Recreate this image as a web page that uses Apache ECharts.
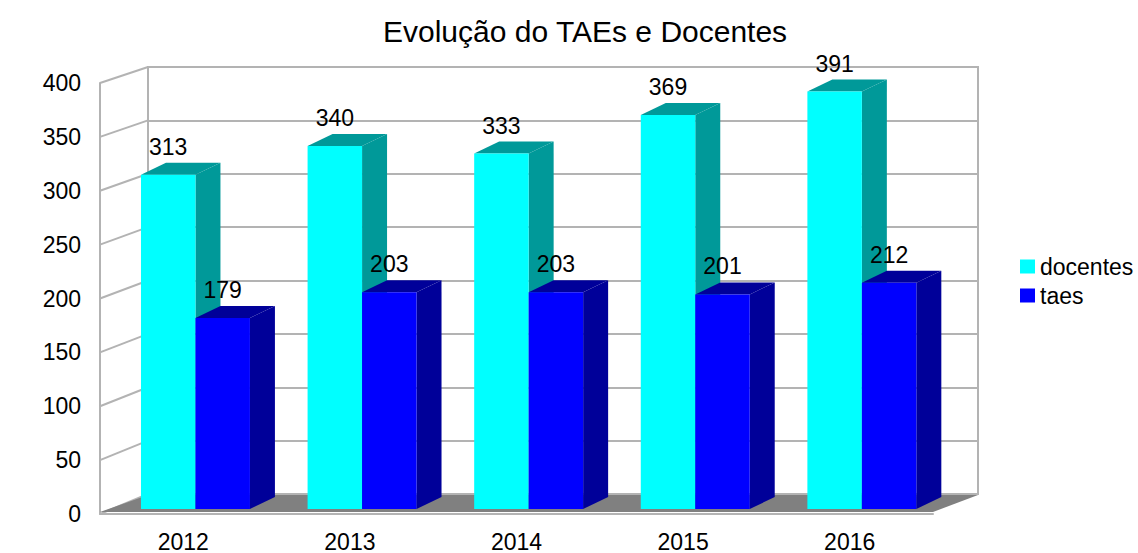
<!DOCTYPE html>
<html>
<head>
<meta charset="utf-8">
<title>Evolução do TAEs e Docentes</title>
<script src="https://cdn.jsdelivr.net/npm/echarts@6/dist/echarts.min.js"></script>
<style>
	html,body{margin:0;padding:0;background:#fff}
	#chart{width:1138px;height:553px}
</style>
</head>
<body>
<div id="chart"></div>
<script>
	var anos = ['2012', '2013', '2014', '2015', '2016'];
	var docentes = [313, 340, 333, 369, 391];
	var taes = [179, 203, 203, 201, 212];
	var escala = [0, 50, 100, 150, 200, 250, 300, 350, 400];

	// parede do fundo (grid 2)
	var fundo = {left: 148, top: 67, width: 830, height: 427};
	var fonte = 'Liberation Sans, Arial, sans-serif';
	var cinza = '#b3b3b3';

	var myChart = echarts.init(document.getElementById('chart'), null, {renderer: 'svg'});

	// barra "3d": frente, lado e topo
	function barra(idx, cor, sombra) {
		return function (params, api) {
			var i = api.value(0), v = api.value(1);
			var base = api.coord([i, 0]);
			var topo = api.coord([i, v]);
			var band = api.size([1, 0])[0];
			var w = band * 0.327, dx = band * 0.15, dy = -12;
			var x0 = base[0] - band * 0.254 + idx * w;
			var x1 = x0 + w, y0 = topo[1], y1 = base[1];
			return {
				type: 'group',
				children: [
					{type: 'polygon', shape: {points: [[x1, y0], [x1 + dx, y0 + dy], [x1 + dx, y1 + dy], [x1, y1]]}, style: {fill: sombra}},
					{type: 'polygon', shape: {points: [[x0, y0], [x0 + dx, y0 + dy], [x1 + dx, y0 + dy], [x1, y0]]}, style: {fill: sombra}},
					{type: 'rect', shape: {x: x0, y: y0, width: w, height: y1 - y0}, style: {fill: cor}},
					{type: 'text', z2: 100, style: {text: String(v), x: (x0 + x1) / 2, y: y0 - 28, align: 'center', verticalAlign: 'middle', font: '23px ' + fonte, fill: '#000'}}
				]
			};
		};
	}

	// parede esquerda e chão
	function paredes(params, api) {
		var cs = params.coordSys;
		var filhos = [];
		escala.forEach(function (v) {
			var yf = api.coord([0, v])[1];
			var yb = fundo.top + fundo.height * (1 - v / 400);
			filhos.push({type: 'line', shape: {x1: cs.x, y1: yf, x2: fundo.left, y2: yb}, style: {stroke: cinza, lineWidth: 2}});
		});
		var yb0 = fundo.top + fundo.height + 1;
		var yf0 = cs.y + cs.height - 2;
		filhos.push({type: 'polygon', shape: {points: [[cs.x, yf0], [fundo.left, yb0], [fundo.left + fundo.width, yb0], [cs.x + cs.width, yf0]]}, style: {fill: '#808080'}});
		return {type: 'group', children: filhos};
	}

	var option = {
		backgroundColor: '#fff',
		animation: false,
		title: {
			text: 'Evolução do TAEs e Docentes',
			left: 378,
			top: 11,
			textStyle: {fontSize: 30, fontWeight: 'normal', color: '#000', fontFamily: fonte}
		},
		legend: {
			data: ['docentes', 'taes'],
			orient: 'vertical',
			left: 1015,
			top: 250,
			icon: 'rect',
			itemWidth: 15,
			itemHeight: 14,
			itemGap: 6,
			textStyle: {fontSize: 23, color: '#000', fontFamily: fonte}
		},
		grid: [
			{left: 100, top: 83, width: 833, height: 431},
			{left: 100, top: 82, width: 833, height: 427},
			{left: fundo.left, top: fundo.top, width: fundo.width, height: fundo.height, show: true, borderColor: cinza, borderWidth: 2}
		],
		xAxis: [
			{
				gridIndex: 0, type: 'category', data: anos,
				axisLine: {show: true, lineStyle: {color: cinza, width: 2}},
				axisTick: {show: false},
				axisLabel: {fontSize: 23, color: '#000', margin: 16, fontFamily: fonte}
			},
			{gridIndex: 1, type: 'category', data: anos, show: false},
			{gridIndex: 2, type: 'category', data: anos, show: false}
		],
		yAxis: [
			{
				gridIndex: 0, type: 'value', min: 0, max: 400, interval: 50,
				axisLine: {show: true, lineStyle: {color: cinza, width: 2}},
				axisTick: {show: false},
				splitLine: {show: false},
				axisLabel: {fontSize: 23, color: '#000', margin: 19, fontFamily: fonte}
			},
			{gridIndex: 1, type: 'value', min: 0, max: 400, show: false},
			{
				gridIndex: 2, type: 'value', min: 0, max: 400, interval: 50,
				axisLine: {show: false}, axisTick: {show: false}, axisLabel: {show: false},
				splitLine: {show: true, lineStyle: {color: cinza, width: 2}}
			}
		],
		series: [
			{
				name: 'paredes', type: 'custom', xAxisIndex: 0, yAxisIndex: 0, silent: true,
				renderItem: paredes, data: [[0, 0]], z: 1
			},
			{
				name: 'docentes', type: 'custom', xAxisIndex: 1, yAxisIndex: 1,
				itemStyle: {color: '#00ffff'},
				renderItem: barra(0, '#00ffff', '#009999'),
				data: docentes.map(function (v, i) { return [i, v]; }), z: 3
			},
			{
				name: 'taes', type: 'custom', xAxisIndex: 1, yAxisIndex: 1,
				itemStyle: {color: '#0000ff'},
				renderItem: barra(1, '#0000ff', '#000099'),
				data: taes.map(function (v, i) { return [i, v]; }), z: 4
			}
		]
	};

	myChart.setOption(option);
</script>
</body>
</html>
